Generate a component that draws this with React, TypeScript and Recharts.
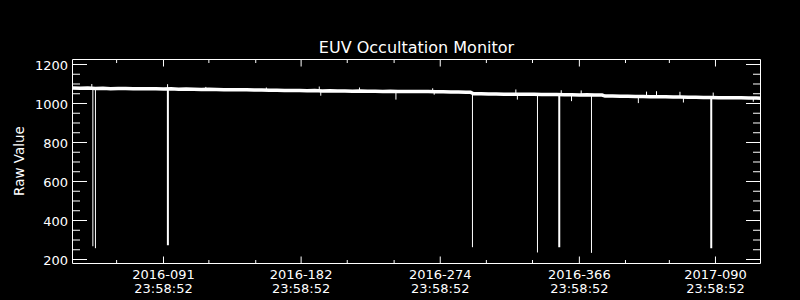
import React from 'react';
import { LineChart, Line, XAxis, YAxis } from 'recharts';

// ---- data ----
const baselineDays = [
  32, 37, 42, 47, 52, 57, 62, 67, 72, 77, 82, 87, 92, 97, 102, 107, 112, 117, 122, 127,
  132, 137, 142, 147, 152, 157, 162, 167, 172, 177, 182, 187, 192, 197, 202, 207, 212, 217,
  222, 227, 232, 237, 242, 247, 252, 257, 262, 267, 272, 277, 282, 287, 292, 295, 297, 302,
  307, 312, 317, 322, 327, 332, 337, 342, 347, 352, 357, 362, 367, 372, 377, 382, 384, 389,
  394, 399, 404, 409, 414, 419, 424, 429, 434, 439, 444, 449, 454, 459, 464, 469, 474, 479,
  484, 487,
];
const baselineValues = [
  1080, 1078, 1079, 1077, 1078, 1076, 1077, 1077, 1076, 1075, 1076, 1075, 1074, 1075, 1073, 1074, 1073, 1072, 1073, 1072,
  1071, 1071, 1070, 1071, 1069, 1069, 1068, 1068, 1067, 1066, 1066, 1065, 1066, 1064, 1065, 1064, 1064, 1063,
  1064, 1063, 1063, 1062, 1063, 1062, 1062, 1061, 1062, 1061, 1060, 1060, 1059, 1059, 1058, 1058, 1050, 1050,
  1049, 1049, 1048, 1048, 1047, 1047, 1047, 1046, 1046, 1046, 1045, 1045, 1044, 1045, 1044, 1043, 1038, 1038,
  1037, 1037, 1036, 1036, 1035, 1035, 1034, 1033, 1033, 1032, 1032, 1031, 1031, 1030, 1030, 1029, 1029, 1028,
  1028, 1027,
];

// deep occultation drops
const spikeDays = [45.3, 47.0, 94.9, 296.3, 339.3, 353.7, 375.0, 454.2];
const spikeValues = [268, 258, 273, 263, 236, 263, 234, 258];
const spikeBase = [1077, 1077, 1074, 1054, 1047, 1046, 1044, 1031];

// small noise excursions around the baseline
const noiseDays = [44.6, 94.7, 120, 160, 195, 196, 221.6, 245.7, 270, 271, 325, 326, 355, 361.8, 368.2, 406, 411.4, 418, 433.5, 435.8, 455.5, 482];
const noiseValues = [1100, 1099, 1085, 1082, 1087, 1040, 1082, 1020, 1078, 1045, 1072, 1020, 1068, 1012, 1067, 1002, 1061, 1063, 1060, 1005, 1056, 1009];
const noiseBase = [1077, 1074, 1073, 1069, 1065, 1065, 1063, 1062, 1061, 1061, 1047, 1047, 1045, 1045, 1044, 1036, 1036, 1035, 1033, 1033, 1031, 1028];

// axis ticks
const xMajorTicks = [92, 183, 275, 367, 457];
const xMinorTicks = [61, 122, 153, 213.5, 244.5, 305.5, 336, 397.5, 426.5];
const xTickDates = ['2016-091', '2016-182', '2016-274', '2016-366', '2017-090'];
const xTickTime = '23:58:52';
const yMajorTicks = [200, 400, 600, 800, 1000, 1200];
const yMinorTicks = [250, 300, 350, 450, 500, 550, 650, 700, 750, 850, 900, 950, 1050, 1100, 1150];

const TITLE = 'EUV Occultation Monitor';
const Y_LABEL = 'Raw Value';

// ---- derived tables ----
const baselineData = baselineDays.map((d, i) => ({ day: d, v: baselineValues[i] }));
const spikeData = spikeDays.map((d, i) => [
  { day: d, v: spikeBase[i] },
  { day: d, v: spikeValues[i] },
]);
const noiseData = noiseDays.map((d, i) => [
  { day: d, v: noiseBase[i] },
  { day: d, v: noiseValues[i] },
]);
const THICK_SPIKES = new Set([2, 5, 7]);

const FONT = 'DejaVu Sans';
const WHITE = '#ffffff';
const X_DOMAIN: [number, number] = [31.83, 486.77];
const Y_DOMAIN: [number, number] = [179.5, 1225.6];
const xAllTicks = [...xMinorTicks, ...xMajorTicks].sort((a, b) => a - b);
const yAllTicks = [...yMinorTicks, ...yMajorTicks].sort((a, b) => a - b);

const BottomTick = (props: any) => {
  const { x, y, payload } = props;
  const idx = xMajorTicks.indexOf(payload.value);
  const major = idx >= 0;
  return (
    <g>
      <line x1={x} x2={x} y1={y} y2={y - (major ? 7 : 3.5)} stroke={WHITE} strokeWidth={1} />
      {major && (
        <text x={x} y={y + 15} textAnchor="middle" fill={WHITE} fontFamily={FONT} fontSize={13}>
          {xTickDates[idx]}
        </text>
      )}
      {major && (
        <text x={x} y={y + 29} textAnchor="middle" fill={WHITE} fontFamily={FONT} fontSize={13}>
          {xTickTime}
        </text>
      )}
    </g>
  );
};

const TopTick = (props: any) => {
  const { x, y, payload } = props;
  const major = xMajorTicks.indexOf(payload.value) >= 0;
  return <line x1={x} x2={x} y1={y} y2={y + (major ? 7 : 3.5)} stroke={WHITE} strokeWidth={1} />;
};

const LeftTick = (props: any) => {
  const { x, y, payload } = props;
  const major = yMajorTicks.indexOf(payload.value) >= 0;
  return (
    <g>
      <line x1={x} x2={x + (major ? 14.5 : 7.5)} y1={y} y2={y} stroke={WHITE} strokeWidth={1} />
      {major && (
        <text x={x - 4.5} y={y + 5.5} textAnchor="end" fill={WHITE} fontFamily={FONT} fontSize={13}>
          {payload.value}
        </text>
      )}
    </g>
  );
};

const RightTick = (props: any) => {
  const { x, y, payload } = props;
  const major = yMajorTicks.indexOf(payload.value) >= 0;
  return <line x1={x} x2={x - (major ? 14.5 : 7.5)} y1={y} y2={y} stroke={WHITE} strokeWidth={1} />;
};

export default function App() {
  return (
    <div style={{ position: 'absolute', left: 0, top: 0, width: 800, height: 300, background: '#000' }}>
      <LineChart
        width={800}
        height={300}
        margin={{ top: 58.5, right: 38.5, bottom: 0, left: 0.5 }}
      >
        <XAxis
          xAxisId="b"
          type="number"
          dataKey="day"
          domain={X_DOMAIN}
          allowDataOverflow
          ticks={xAllTicks}
          interval={0}
          tick={<BottomTick />}
          tickLine={false}
          tickSize={0}
          tickMargin={0}
          axisLine={{ stroke: WHITE, strokeWidth: 1 }}
          height={36.5}
        />
        <XAxis
          xAxisId="t"
          orientation="top"
          type="number"
          dataKey="day"
          domain={X_DOMAIN}
          allowDataOverflow
          ticks={xAllTicks}
          interval={0}
          tick={<TopTick />}
          tickLine={false}
          tickSize={0}
          tickMargin={0}
          axisLine={{ stroke: WHITE, strokeWidth: 1 }}
          height={1}
        />
        <YAxis
          yAxisId="l"
          type="number"
          domain={Y_DOMAIN}
          allowDataOverflow
          ticks={yAllTicks}
          interval={0}
          tick={<LeftTick />}
          tickLine={false}
          tickSize={0}
          tickMargin={0}
          axisLine={{ stroke: WHITE, strokeWidth: 1 }}
          width={72}
        />
        <YAxis
          yAxisId="r"
          orientation="right"
          type="number"
          domain={Y_DOMAIN}
          allowDataOverflow
          ticks={yAllTicks}
          interval={0}
          tick={<RightTick />}
          tickLine={false}
          tickSize={0}
          tickMargin={0}
          axisLine={{ stroke: WHITE, strokeWidth: 1 }}
          width={1}
        />
        <Line
          xAxisId="b"
          yAxisId="l"
          data={baselineData}
          dataKey="v"
          type="linear"
          stroke={WHITE}
          strokeWidth={3.5}
          dot={false}
          isAnimationActive={false}
        />
        {noiseData.map((d, i) => (
          <Line
            key={'n' + i}
            xAxisId="b"
            yAxisId="l"
            data={d}
            dataKey="v"
            type="linear"
            stroke={WHITE}
            strokeWidth={1}
            dot={false}
            isAnimationActive={false}
          />
        ))}
        {spikeData.map((d, i) => (
          <Line
            key={'s' + i}
            xAxisId="b"
            yAxisId="l"
            data={d}
            dataKey="v"
            type="linear"
            stroke={WHITE}
            strokeWidth={THICK_SPIKES.has(i) ? 2 : 1}
            dot={false}
            isAnimationActive={false}
          />
        ))}
      </LineChart>
      <svg
        width={800}
        height={300}
        style={{ position: 'absolute', left: 0, top: 0, pointerEvents: 'none' }}
      >
        <text x={416.5} y={53} textAnchor="middle" fill={WHITE} fontFamily={FONT} fontSize={16}>
          {TITLE}
        </text>
        <text
          x={0}
          y={0}
          transform="translate(24,161) rotate(-90)"
          textAnchor="middle"
          fill={WHITE}
          fontFamily={FONT}
          fontSize={13.5}
        >
          {Y_LABEL}
        </text>
      </svg>
    </div>
  );
}
